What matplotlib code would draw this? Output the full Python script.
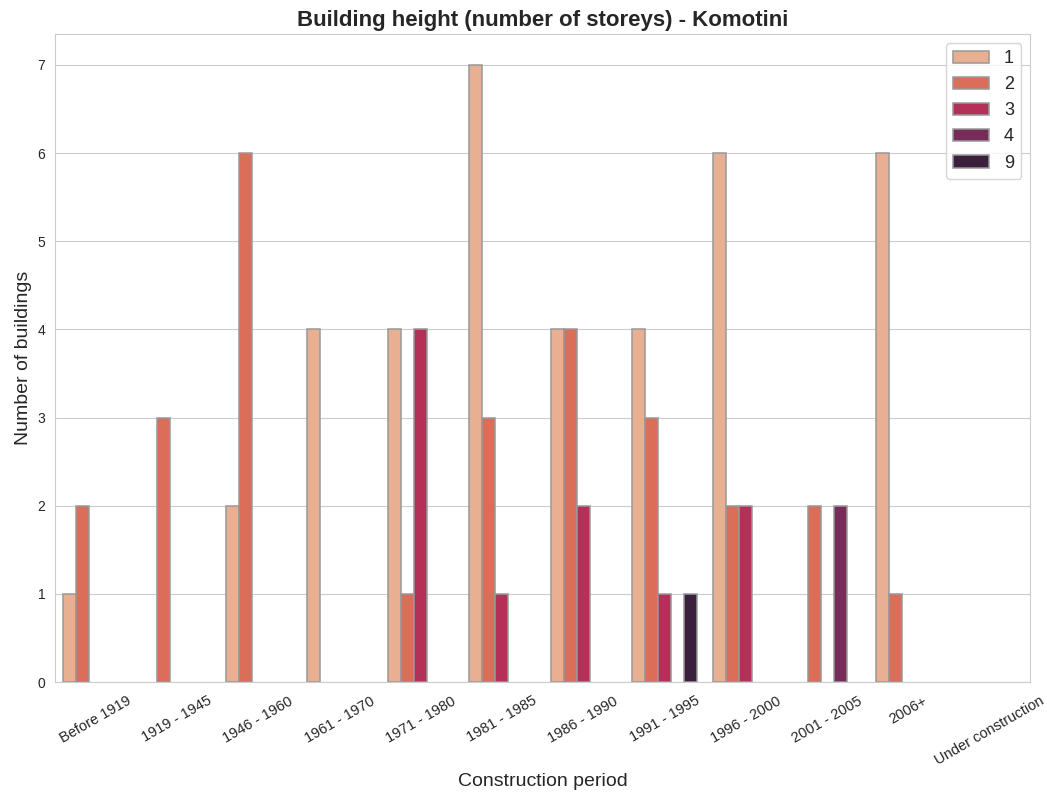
import numpy as np
import matplotlib
matplotlib.use("Agg")
import matplotlib.pyplot as plt
import seaborn as sns

# data
periods = ["Before 1919", "1919 - 1945", "1946 - 1960", "1961 - 1970", "1971 - 1980",
           "1981 - 1985", "1986 - 1990", "1991 - 1995", "1996 - 2000", "2001 - 2005",
           "2006+", "Under construction"]
storeys = ["1", "2", "3", "4", "9"]
counts_1 = [1, 0, 2, 4, 4, 7, 4, 4, 6, 0, 6, 0]
counts_2 = [2, 3, 6, 0, 1, 3, 4, 3, 2, 2, 1, 0]
counts_3 = [0, 0, 0, 0, 4, 1, 2, 1, 2, 0, 0, 0]
counts_4 = [0, 0, 0, 0, 0, 0, 0, 0, 0, 2, 0, 0]
counts_9 = [0, 0, 0, 0, 0, 0, 0, 1, 0, 0, 0, 0]
series = [counts_1, counts_2, counts_3, counts_4, counts_9]

sns.set_style("whitegrid")
plt.rcParams['font.family'] = ['Liberation Sans', 'DejaVu Sans']

pal = sns.color_palette("rocket_r", 5, desat=0.75)

fig, ax = plt.subplots(figsize=(10.47, 7.94), dpi=100)
fig.subplots_adjust(left=0.0525, right=0.984, top=0.957, bottom=0.141)

x = np.arange(len(periods))
w = 0.8 / len(storeys)
for i, (lab, vals) in enumerate(zip(storeys, series)):
    pos = x - 0.4 + w * (i + 0.5)
    vals = np.array(vals)
    mask = vals > 0
    ax.bar(pos[mask], vals[mask], width=w, color=pal[i], edgecolor="#999999",
           linewidth=1.1, label=lab)

ax.set_xlim(-0.5, len(periods) - 0.5)
ax.set_ylim(0, 7.35)
ax.set_xticks(x)
ax.set_xticklabels(periods, rotation=30, fontsize=10.5)
ax.tick_params(axis='y', labelsize=10)
ax.tick_params(axis='x', pad=5)
ax.grid(axis='x', visible=False)
ax.set_axisbelow(True)
ax.set_xlabel("Construction period", fontsize=14, labelpad=4)
ax.set_ylabel("Number of buildings", fontsize=14)
ax.set_title("Building height (number of storeys) - Komotini", fontsize=16, fontweight="bold")
ax.legend(loc="upper right", fontsize=13)

fig.savefig("out.png", dpi=100)
